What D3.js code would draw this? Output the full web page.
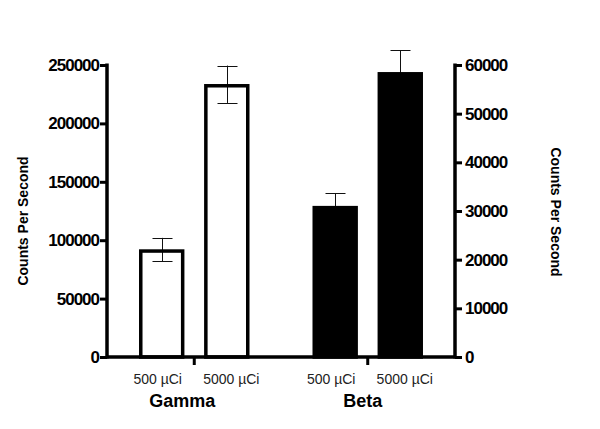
<!DOCTYPE html>
<html>
<head>
<meta charset="utf-8">
<script src="https://cdn.jsdelivr.net/npm/d3@7"></script>
<style>
  body { margin: 0; background: #fff; }
  text { font-family: "Liberation Sans", Arial, sans-serif; }
</style>
</head>
<body>
<div id="chart"></div>
<script>
// data
const groups = ["Gamma", "Beta"];
const doses = ["500 µCi", "5000 µCi"];
const gammaValues = [92000, 233500];
const gammaErrors = [10000, 16000];
const betaValues = [31000, 58500];
const betaErrors = [2700, 4500];
const leftTicks = [0, 50000, 100000, 150000, 200000, 250000];
const rightTicks = [0, 10000, 20000, 30000, 40000, 50000, 60000];

const width = 600, height = 429;
const svg = d3.select("#chart").append("svg")
  .attr("width", width)
  .attr("height", height);

const x0 = 107, x1 = 455, y0 = 357, yTop = 65;

const yLeft = d3.scaleLinear().domain([0, 250000]).range([y0, yTop]);
const yRight = d3.scaleLinear().domain([0, 60000]).range([y0, yTop]);

const xGroup = d3.scaleBand().domain(groups).range([x0, x1]).paddingInner(0.366).paddingOuter(0.186);
const xDose = d3.scaleBand().domain(doses).range([0, xGroup.bandwidth()]).paddingInner(0.31).paddingOuter(0);
const bw = xDose.bandwidth();

const bars = [];
gammaValues.forEach((v, i) => bars.push({group: "Gamma", dose: doses[i], value: v, err: gammaErrors[i], y: yLeft, fill: "#fff"}));
betaValues.forEach((v, i) => bars.push({group: "Beta", dose: doses[i], value: v, err: betaErrors[i], y: yRight, fill: "#000"}));
const bx = d => xGroup(d.group) + xDose(d.dose);

// error bars (drawn first, so black bars hide the lower half)
const eb = svg.append("g").attr("stroke", "#111").attr("stroke-width", 1);
bars.forEach(d => {
  const cx = Math.round(bx(d) + bw / 2) + 0.5;
  eb.append("line").attr("x1", cx).attr("x2", cx)
    .attr("y1", d.y(d.value + d.err)).attr("y2", d.y(d.value - d.err));
  [d.value + d.err, d.value - d.err].forEach(v => {
    eb.append("line").attr("x1", cx - 10).attr("x2", cx + 10)
      .attr("y1", Math.round(d.y(v)) + 0.5).attr("y2", Math.round(d.y(v)) + 0.5);
  });
});

svg.selectAll("rect.bar").data(bars).enter().append("rect")
  .attr("class", "bar")
  .attr("x", d => bx(d) + 1.5)
  .attr("y", d => d.y(d.value) + 1.5)
  .attr("width", bw - 3)
  .attr("height", d => y0 - d.y(d.value) - 1.5)
  .attr("fill", d => d.fill)
  .attr("fill-opacity", d => d.fill === "#fff" ? 0 : 1)
  .attr("stroke", "#000")
  .attr("stroke-width", 3.5);

// axes
const leftAxis = svg.append("g").attr("transform", `translate(${x0},0)`)
  .call(d3.axisLeft(yLeft).tickValues(leftTicks).tickSize(7).tickSizeOuter(0).tickPadding(1).tickFormat(d3.format("d")));
const rightAxis = svg.append("g").attr("transform", `translate(${x1},0)`)
  .call(d3.axisRight(yRight).tickValues(rightTicks).tickSize(7).tickSizeOuter(0).tickPadding(3).tickFormat(d3.format("d")));

[leftAxis, rightAxis].forEach(a => {
  a.select(".domain").attr("stroke-width", 3.5).attr("d", `M0,${y0 + 1.5}V${yTop - 1.5}`);
  a.selectAll(".tick line").attr("stroke-width", 3);
  a.selectAll(".tick text")
    .attr("font-size", 17).attr("font-weight", "bold")
    .attr("letter-spacing", -1).attr("fill", "#000");
});

// baseline
svg.append("line").attr("x1", x0).attr("x2", x1).attr("y1", y0).attr("y2", y0)
  .attr("stroke", "#000").attr("stroke-width", 3.5);

// group separators below baseline
groups.forEach(g => {
  const s = xGroup(g) + xGroup.bandwidth() / 2;
  svg.append("line").attr("x1", s).attr("x2", s).attr("y1", y0).attr("y2", y0 + 8)
    .attr("stroke", "#000").attr("stroke-width", 3);
});

// bar labels
bars.forEach(d => {
  const first = d.dose === doses[0];
  svg.append("text")
    .attr("x", bx(d) + bw / 2 + (first ? -4 : 4.5))
    .attr("y", 384)
    .attr("text-anchor", "middle")
    .attr("font-size", 14)
    .attr("fill", "#222")
    .text(d.dose);
});

// group labels (set slightly left of the group centre, as in the original)
groups.forEach((g, i) => {
  svg.append("text")
    .attr("x", xGroup(g) + xGroup.bandwidth() / 2 - (i === 0 ? 12 : 5))
    .attr("y", 407)
    .attr("text-anchor", "middle")
    .attr("font-size", 18).attr("font-weight", "bold")
    .text(g);
});

// axis titles
svg.append("text")
  .attr("transform", "translate(28,221) rotate(-90)")
  .attr("text-anchor", "middle")
  .attr("font-size", 14).attr("font-weight", "bold")
  .text("Counts Per Second");
svg.append("text")
  .attr("transform", "translate(551,212) rotate(90)")
  .attr("text-anchor", "middle")
  .attr("font-size", 14).attr("font-weight", "bold")
  .text("Counts Per Second");
</script>
</body>
</html>
